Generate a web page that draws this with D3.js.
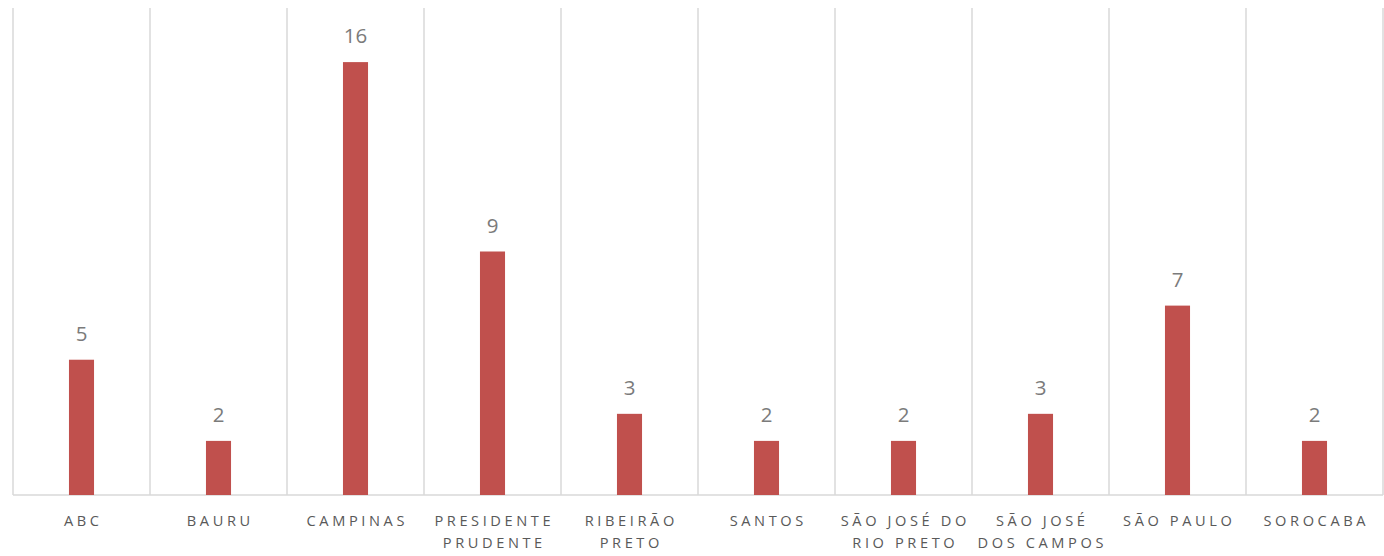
<!DOCTYPE html>
<html>
<head>
<meta charset="utf-8">
<script src="https://cdn.jsdelivr.net/npm/d3@7"></script>
<style>
  body { margin: 0; background: #fff; }
  svg { display: block; font-family: "Open Sans", sans-serif; }
</style>
</head>
<body>
<div id="chart"></div>
<script>
// category labels (line breaks as in the original)
const categories = ["ABC", "BAURU", "CAMPINAS", "PRESIDENTE PRUDENTE", "RIBEIRÃO PRETO",
  "SANTOS", "SÃO JOSÉ DO RIO PRETO", "SÃO JOSÉ DOS CAMPOS", "SÃO PAULO", "SOROCABA"];
const tickLines = [["ABC"], ["BAURU"], ["CAMPINAS"], ["PRESIDENTE", "PRUDENTE"], ["RIBEIRÃO", "PRETO"],
  ["SANTOS"], ["SÃO JOSÉ DO", "RIO PRETO"], ["SÃO JOSÉ", "DOS CAMPOS"], ["SÃO PAULO"], ["SOROCABA"]];
const values = [5, 2, 16, 9, 3, 2, 2, 3, 7, 2];

const width = 1384, height = 556;
const margin = { top: 8, right: 1, bottom: 61, left: 13 };

const svg = d3.select("#chart").append("svg")
  .attr("width", width)
  .attr("height", height);

const x = d3.scaleBand()
  .domain(categories)
  .range([margin.left, width - margin.right])
  .padding(0);

const y = d3.scaleLinear()
  .domain([0, 18])
  .range([height - margin.bottom, margin.top]);

// vertical grid lines between categories
const bounds = categories.map(c => x(c)).concat([x.range()[1]]);
svg.append("g")
  .selectAll("line")
  .data(bounds)
  .join("line")
  .attr("x1", d => d).attr("x2", d => d)
  .attr("y1", y(18)).attr("y2", y(0))
  .attr("stroke", "#d9d9d9")
  .attr("stroke-width", 1.5);

// baseline
svg.append("line")
  .attr("x1", x.range()[0]).attr("x2", x.range()[1])
  .attr("y1", y(0)).attr("y2", y(0))
  .attr("stroke", "#d9d9d9")
  .attr("stroke-width", 1.5);

const barW = x.bandwidth() * 0.183;

svg.append("g")
  .selectAll("rect")
  .data(values)
  .join("rect")
  .attr("x", (d, i) => x(categories[i]) + x.bandwidth() / 2 - barW / 2)
  .attr("y", d => y(d))
  .attr("width", barW)
  .attr("height", d => y(0) - y(d))
  .attr("fill", "#c0504d");

// data labels
svg.append("g")
  .selectAll("text")
  .data(values)
  .join("text")
  .attr("x", (d, i) => x(categories[i]) + x.bandwidth() / 2)
  .attr("y", d => y(d) - 19)
  .attr("text-anchor", "middle")
  .attr("fill", "#7b7b7b")
  .style("font-size", "20.5px")
  .text(d => d);

// category labels
const ls = 3.6;
const tl = svg.append("g")
  .selectAll("text")
  .data(tickLines)
  .join("text")
  .attr("text-anchor", "middle")
  .attr("fill", "#595959")
  .style("font-size", "14.6px")
  .style("letter-spacing", ls + "px");

tl.each(function (lines, i) {
  const cx = x(categories[i]) + x.bandwidth() / 2 + ls / 2;
  d3.select(this).selectAll("tspan")
    .data(lines)
    .join("tspan")
    .attr("x", cx)
    .attr("y", (d, j) => y(0) + 31 + j * 22)
    .text(d => d);
});
</script>
</body>
</html>
